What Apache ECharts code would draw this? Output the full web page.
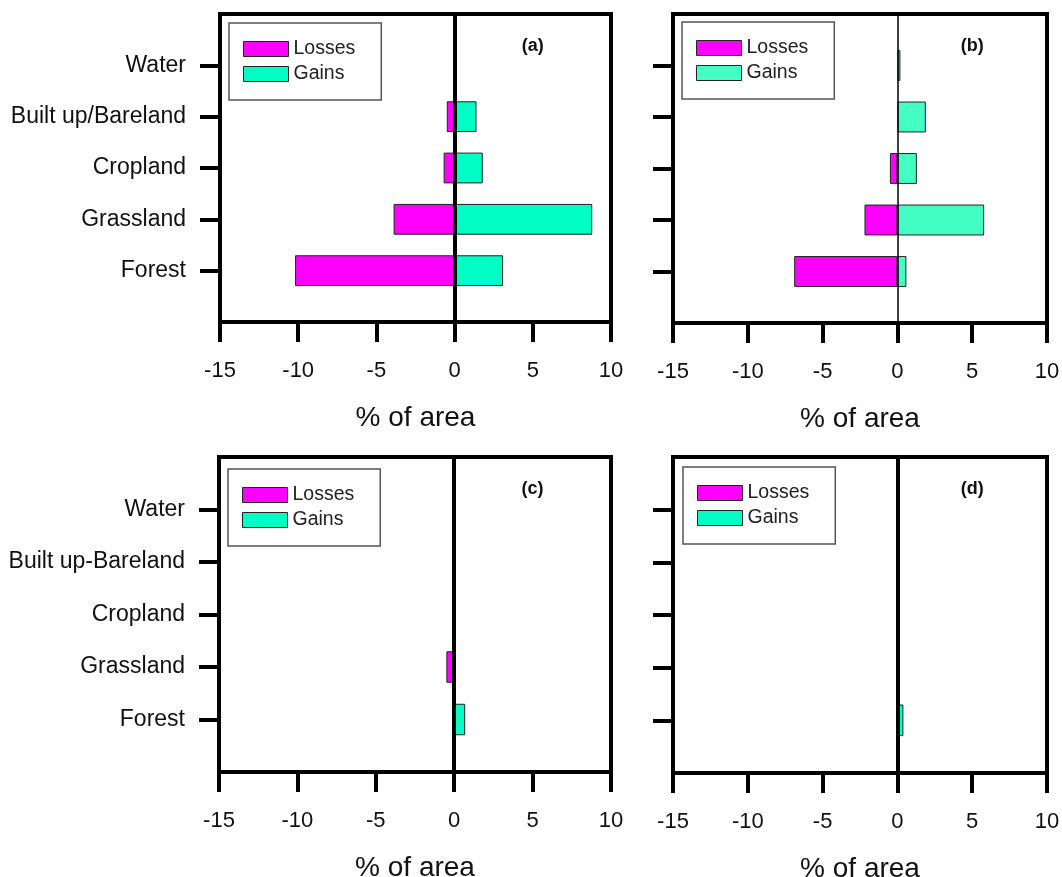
<!DOCTYPE html>
<html>
<head>
<meta charset="utf-8">
<script src="https://cdn.jsdelivr.net/npm/echarts@6/dist/echarts.min.js"></script>
<style>
  html, body { margin: 0; padding: 0; background: #fff; }
  #main { width: 1062px; height: 877px; }
</style>
</head>
<body>
<div id="main"></div>
<script>
var chart = echarts.init(document.getElementById('main'));

// categories bottom -> top
var catsTop = ['Forest', 'Grassland', 'Cropland', 'Built up/Bareland', 'Water'];
var catsBottom = ['Forest', 'Grassland', 'Cropland', 'Built up-Bareland', 'Water'];
var xTicks = [-15, 10, 5]; // min, max, interval

// % of area, order: Forest, Grassland, Cropland, Built up, Water
var lossesA = [-10.2, -3.9, -0.7, -0.5, 0];
var gainsA = [3.1, 8.8, 1.8, 1.4, 0];
var lossesB = [-6.9, -2.2, -0.5, 0, 0];
var gainsB = [0.6, 5.8, 1.3, 1.9, 0.2];
var lossesC = [0, -0.5, 0, 0, 0];
var gainsC = [0.7, 0, 0, 0, 0];
var lossesD = [0, 0, 0, 0, 0];
var gainsD = [0.4, 0, 0, 0, 0];

var FONT = 'Liberation Sans, Arial, sans-serif';
var MAGENTA = '#FF00FF';

// empty slot below and above the five categories
function pad(arr) { return ['-'].concat(arr.map(function (v) { return v === 0 ? '-' : v; }), ['-']); }
function padCats(arr) { return [''].concat(arr, ['']); }

var panels = [
    { tag: '(a)', cats: catsTop, losses: lossesA, gains: gainsA, gainColor: '#00FFC4', zeroW: 4, labels: true,
      grid: { left: 220, top: 14, width: 391, height: 308 }, legend: { left: 229, top: 23 } },
    { tag: '(b)', cats: catsTop, losses: lossesB, gains: gainsB, gainColor: '#44FFC4', zeroW: 1.5, labels: false,
      grid: { left: 673, top: 14, width: 374, height: 309 }, legend: { left: 682, top: 22 } },
    { tag: '(c)', cats: catsBottom, losses: lossesC, gains: gainsC, gainColor: '#00FFC4', zeroW: 4, labels: true,
      grid: { left: 219, top: 457, width: 392, height: 315 }, legend: { left: 228, top: 469 } },
    { tag: '(d)', cats: catsBottom, losses: lossesD, gains: gainsD, gainColor: '#00FFC4', zeroW: 4, labels: false,
      grid: { left: 673, top: 457, width: 374, height: 316 }, legend: { left: 683, top: 467 } }
];

var grids = [], xAxes = [], yAxes = [], series = [], legends = [], texts = [];

panels.forEach(function (p, i) {
    grids.push({
        left: p.grid.left, top: p.grid.top, width: p.grid.width, height: p.grid.height,
        outerBoundsMode: 'none', containLabel: false,
        show: true, borderColor: '#000', borderWidth: 4, backgroundColor: '#fff'
    });
    xAxes.push({
        type: 'value', gridIndex: i,
        min: xTicks[0], max: xTicks[1], interval: xTicks[2],
        axisLine: { show: false, onZero: false },
        axisTick: { show: true, length: 20, lineStyle: { color: '#000', width: 4 } },
        splitLine: { show: false },
        axisLabel: { fontSize: 22, color: '#111', fontFamily: FONT, margin: 38 },
        name: '% of area', nameLocation: 'middle', nameGap: 82,
        nameTextStyle: { fontSize: 28, color: '#111', fontFamily: FONT }
    });
    yAxes.push({
        type: 'category', gridIndex: i, data: padCats(p.cats), boundaryGap: false,
        axisLine: { show: false, onZero: false },
        axisTick: {
            show: true, length: 20, lineStyle: { color: '#000', width: 4 },
            interval: function (idx) { return idx > 0 && idx < 6; }
        },
        axisLabel: {
            show: p.labels, fontSize: 23, color: '#111', fontFamily: FONT, margin: 34,
            interval: function (idx) { return idx > 0 && idx < 6; }
        }
    });
    series.push({
        name: 'Losses', type: 'bar', xAxisIndex: i, yAxisIndex: i,
        data: pad(p.losses), barWidth: '60%', barGap: '-100%',
        itemStyle: { color: MAGENTA, borderColor: '#222', borderWidth: 1 }
    });
    series.push({
        name: 'Gains', type: 'bar', xAxisIndex: i, yAxisIndex: i,
        data: pad(p.gains), barWidth: '60%', barGap: '-100%',
        itemStyle: { color: p.gainColor, borderColor: '#222', borderWidth: 1 },
        markLine: {
            silent: true, symbol: ['none', 'none'], label: { show: false },
            lineStyle: { color: '#000', width: p.zeroW, type: 'solid' },
            data: [{ xAxis: 0 }]
        }
    });
    legends.push({
        left: p.legend.left, top: p.legend.top, orient: 'vertical',
        icon: 'rect', itemWidth: 45, itemHeight: 15, itemGap: 5, itemTextGap: 11,
        padding: [16, 26, 16, 14],
        backgroundColor: '#fff', borderColor: '#555', borderWidth: 1.5,
        selectedMode: false,
        textStyle: { fontSize: 19.5, color: '#222', fontFamily: FONT, lineHeight: 20 },
        itemStyle: { borderColor: '#222', borderWidth: 1 },
        data: [
            { name: 'Losses', itemStyle: { color: MAGENTA } },
            { name: 'Gains', itemStyle: { color: p.gainColor } }
        ]
    });
    texts.push({
        type: 'text', z: 100,
        x: p.grid.left + p.grid.width * 0.8, y: p.grid.top + 32,
        style: {
            text: p.tag, fontSize: 18, fontWeight: 'bold', fontFamily: FONT,
            fill: '#111', textAlign: 'center', textVerticalAlign: 'middle'
        }
    });
});

chart.setOption({
    animation: false,
    grid: grids,
    xAxis: xAxes,
    yAxis: yAxes,
    legend: legends,
    series: series,
    graphic: texts
});
</script>
</body>
</html>
